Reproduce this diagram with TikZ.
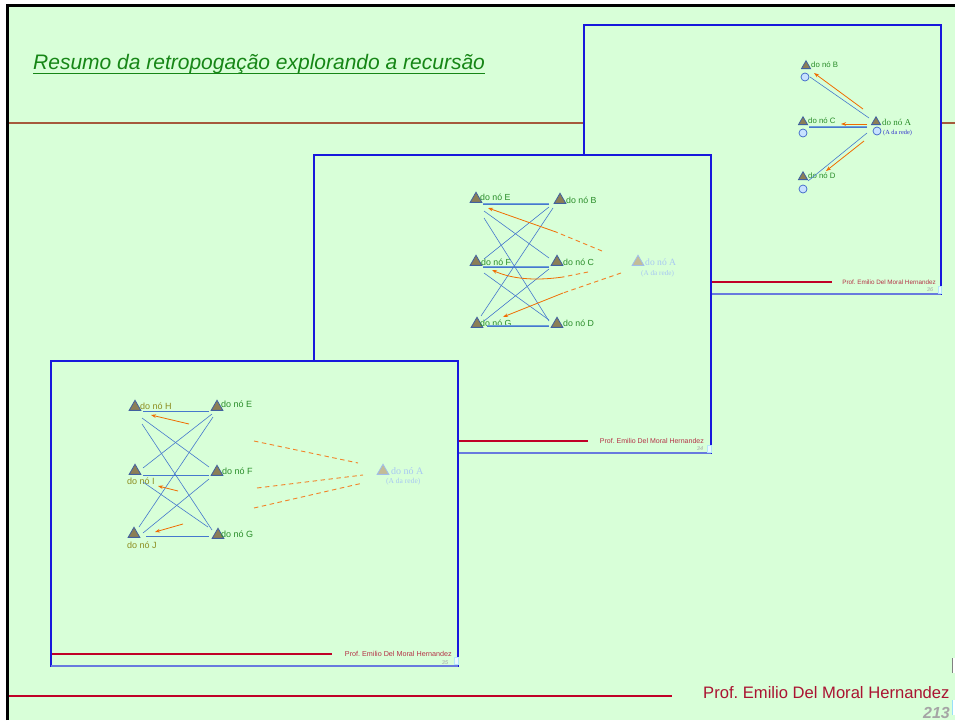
\documentclass[tikz,border=0pt]{standalone}
\usepackage{fontspec}
\setmainfont{Liberation Sans}
\newfontfamily\timesA{Liberation Serif}
\usetikzlibrary{shapes.geometric,calc,arrows.meta}

\definecolor{bg}{RGB}{216,255,216}
\definecolor{slideblue}{RGB}{24,24,220}
\definecolor{slidebase}{RGB}{104,122,222}
\definecolor{titlegreen}{RGB}{22,134,22}
\definecolor{labgreen}{RGB}{40,140,40}
\definecolor{labolive}{RGB}{140,140,30}
\definecolor{wireblue}{RGB}{70,120,205}
\definecolor{wirelight}{RGB}{110,160,215}
\definecolor{orangeA}{RGB}{240,108,0}
\definecolor{orangeB}{RGB}{242,130,40}
\definecolor{trifill}{RGB}{140,126,86}
\definecolor{triedge}{RGB}{64,96,160}
\definecolor{ringfill}{RGB}{200,226,255}
\definecolor{ringedge}{RGB}{60,100,200}
\definecolor{fadefill}{RGB}{196,188,150}
\definecolor{fadeedge}{RGB}{160,190,235}
\definecolor{fadetext}{RGB}{168,200,242}
\definecolor{subblue}{RGB}{50,50,205}
\definecolor{crimsonrule}{RGB}{192,0,40}
\definecolor{smallred}{RGB}{180,50,70}
\definecolor{footred}{RGB}{170,20,50}
\definecolor{rulebrown}{RGB}{165,90,60}
\definecolor{pagegray}{RGB}{165,165,165}

\newcommand\setfs[1]{\fontsize{#1}{#1}\selectfont}
\frenchspacing

\tikzset{
  tri/.style={regular polygon, regular polygon sides=3, inner sep=0pt,
    minimum size=13.5pt, fill=trifill, draw=triedge, line width=0.8pt},
  trismall/.style={tri, minimum size=10.5pt},
  trifade/.style={tri, fill=fadefill, draw=fadeedge},
  ring/.style={circle, inner sep=0pt, minimum size=8pt, fill=ringfill,
    draw=ringedge, line width=0.7pt},
  lab/.style={anchor=west, inner sep=0pt, text=labgreen},
  labh/.style={lab, text=labolive},
  serifA/.style={anchor=west, inner sep=0pt, font=\timesA},
  wire/.style={draw=wireblue, line width=0.6pt},
  wirewide/.style={draw=wirelight, line width=1.3pt},
  back/.style={draw=orangeA, line width=0.8pt,
    -{Stealth[length=5pt,width=3.6pt]}},
  fwd/.style={draw=orangeB, line width=0.9pt, dash pattern=on 4.5pt off 3.5pt},
  slideframe/.style={fill=bg, draw=slideblue, line width=1.2pt},
  slidebottom/.style={draw=slidebase, line width=2pt},
  footline/.style={draw=crimsonrule, line width=1.1pt},
  pagenum/.style={inner sep=0pt, text=pagegray, font=\setfs{5.5}\itshape},
  tinybox/.style={fill=cyan!8, draw=cyan!30, line width=0.3pt},
}

\begin{document}
\begin{tikzpicture}[x=1pt, y=-1pt]
\useasboundingbox (0,0) rectangle (955,720);

% page background and outer frame
\fill[white] (0,0) rectangle (955,720);
\fill[bg] (7.5,5) rectangle (955,720);
\draw[black, line width=3pt] (7.5,720) -- (7.5,5) -- (955,5);

% title and rules
\node[anchor=base west, inner sep=0pt, text=titlegreen,
      font=\setfs{21}\itshape] (title) at (33,69)
      {Resumo da retropogação explorando a recursão};
\draw[titlegreen, line width=1.3pt]
  ($(title.base west)+(0,4.5)$) -- ($(title.base east)+(0,4.5)$);
\draw[draw=rulebrown, line width=1.2pt] (9,123) -- (955,123);

% footer of the page
\fill[crimsonrule] (9,694.6) rectangle (672,696.6);
\node[anchor=base west, inner sep=0pt, text=footred, font=\setfs{16.6}]
  (author) at (703,698) {Prof. Emilio Del Moral Hernandez};
\node[anchor=base east, inner sep=0pt, text=pagegray,
      font=\setfs{16}\bfseries\itshape] (pageno) at (950,718.5) {213};
\fill[white] (952,658) rectangle (955,673);
\draw[gray, line width=1pt] (952.5,658) -- (952.5,673);
\fill[white] (952,700) rectangle (955,715);
\draw[cyan!40, line width=1pt] (952.5,700) -- (952.5,715);

%================ slide 36 ================
\path[slideframe] (584,25) rectangle (941,294);
\draw[slidebottom] (584,294) -- (941,294);
\draw[footline] (585,282) -- (832,282);
\node[anchor=east, inner sep=0pt, text=smallred, font=\setfs{6.3}]
  (foot36) at (936,282) {Prof. Emilio Del Moral Hernandez};
\node[pagenum] (num36) at (930,290) {36};
\path[tinybox] (938,286) rectangle (941,293);

\node[trismall] (B1) at (806,66) {};
\node[ring] (rB1) at (805,77) {};
\node[lab, font=\setfs{7.8}] (tB1) at (811,65) {do nó B};
\node[trismall] (C1) at (803,122) {};
\node[ring] (rC1) at (803,133) {};
\node[lab, font=\setfs{7.8}] (tC1) at (808,121) {do nó C};
\node[trismall] (A1) at (876,122) {};
\node[ring] (rA1) at (877,131) {};
\node[serifA, text=labgreen, font=\timesA\setfs{9}] (tA1) at (882,122) {do nó A};
\node[serifA, text=subblue, font=\timesA\setfs{6.3}] (sA1) at (883,133) {(A da rede)};
\node[trismall] (D1) at (803,177) {};
\node[ring] (rD1) at (803,189) {};
\node[lab, font=\setfs{7.8}] (tD1) at (808,176) {do nó D};

\draw[wire] ($(rA1)+(-8,-13)$) -- ($(rB1)+(5,0)$);
\draw[wirewide] ($(A1)+(-9,5)$) -- ($(rC1)+(6,-6)$);
\draw[wire] ($(A1)+(-9,5)$) -- ($(rC1)+(6,-6)$);
\draw[wire] ($(A1)+(-9,11)$) -- ($(rD1)+(5,-8)$);
\draw[back] ($(A1)+(-13,-13)$) -- ($(B1)+(8,7)$);
\draw[back] ($(A1)+(-9,2)$) -- ($(C1)+(38,2)$);
\draw[back] ($(A1)+(-12,19)$) -- ($(D1)+(23,-6)$);

%================ slide 34 ================
\path[slideframe] (314,155) rectangle (711,453);
\draw[slidebottom] (314,453) -- (711,453);
\draw[footline] (315,441) -- (588,441);
\node[anchor=east, inner sep=0pt, text=smallred, font=\setfs{7}]
  (foot34) at (704,441) {Prof. Emilio Del Moral Hernandez};
\node[pagenum] (num34) at (700,449) {34};
\path[tinybox] (707,445) rectangle (711,452);

\node[tri] (E2) at (476,199) {};
\node[lab, font=\setfs{8.8}] (tE2) at (480,197) {do nó E};
\node[tri] (B2) at (560,200) {};
\node[lab, font=\setfs{8.8}] (tB2) at (566,200) {do nó B};
\node[tri] (F2) at (476,262) {};
\node[lab, font=\setfs{8.8}] (tF2) at (481,262) {do nó F};
\node[tri] (C2) at (557,262) {};
\node[lab, font=\setfs{8.8}] (tC2) at (563,262) {do nó C};
\node[tri] (G2) at (477,324) {};
\node[lab, font=\setfs{8.8}] (tG2) at (480,323) {do nó G};
\node[tri] (D2) at (557,324) {};
\node[lab, font=\setfs{8.8}] (tD2) at (563,323) {do nó D};
\node[trifade] (A2) at (638,262) {};
\node[serifA, text=fadetext, font=\timesA\setfs{9.6}] (tA2) at (645,262) {do nó A};
\node[serifA, text=fadetext, font=\timesA\setfs{7.2}] (sA2) at (641,274) {(A da rede)};

\draw[wirewide] ($(E2)+(7,5)$) -- ($(B2)+(-11,4)$);
\draw[wirewide] ($(F2)+(7,5)$) -- ($(C2)+(-8,5)$);
\draw[wirewide] ($(G2)+(10,2)$) -- ($(D2)+(-8,2)$);
\draw[wire] ($(E2)+(7,5)$) -- ($(B2)+(-11,4)$);
\draw[wire] ($(E2)+(8,12)$) -- ($(C2)+(-8,-4)$);
\draw[wire] ($(E2)+(8,19)$) -- ($(D2)+(-8,-3)$);
\draw[wire] ($(B2)+(-11,7)$) -- ($(F2)+(8,-3)$);
\draw[wire] ($(B2)+(-7,8)$) -- ($(G2)+(4,-8)$);
\draw[wire] ($(F2)+(7,5)$) -- ($(C2)+(-8,5)$);
\draw[wire] ($(F2)+(8,11)$) -- ($(D2)+(-8,-4)$);
\draw[wire] ($(C2)+(-8,7)$) -- ($(G2)+(7,-3)$);
\draw[wire] ($(G2)+(10,2)$) -- ($(D2)+(-8,2)$);

\coordinate (k1) at (556,232);
\coordinate (k2) at (563,277);
\coordinate (k3) at (563,293);
\draw[fwd] ($(A2)+(-36,-11)$) -- (k1);
\draw[back] (k1) -- ($(E2)+(12,9)$);
\draw[fwd] ($(A2)+(-50,10)$) -- (k2);
\draw[back] (k2) .. controls (535,281) and (512,279) .. ($(F2)+(16,8)$);
\draw[fwd] ($(A2)+(-17,11)$) -- (k3);
\draw[back] (k3) -- ($(G2)+(26,-7)$);

%================ slide 35 ================
\path[slideframe] (51,361) rectangle (458,666);
\draw[slidebottom] (51,666) -- (458,666);
\draw[footline] (52,654) -- (332,654);
\begin{scope}
  \clip (340,640) rectangle (456,656);
  \node[anchor=east, inner sep=0pt, text=smallred, font=\setfs{7.2}]
    (foot35) at (452,654) {Prof. Emilio Del Moral Hernandez};
\end{scope}
\node[pagenum] (num35) at (445,663) {35};
\path[tinybox] (454,657) rectangle (458,664);

\node[tri] (H3) at (135,407) {};
\node[labh, font=\setfs{9}] (tH3) at (140,406) {do nó H};
\node[tri] (E3) at (217,407) {};
\node[lab, font=\setfs{9}] (tE3) at (221,404) {do nó E};
\node[tri] (I3) at (135,471) {};
\node[labh, font=\setfs{9}] (tI3) at (127,481) {do nó I};
\node[tri] (F3) at (217,472) {};
\node[lab, font=\setfs{9}] (tF3) at (222,471) {do nó F};
\node[tri] (J3) at (134,534) {};
\node[labh, font=\setfs{9}] (tJ3) at (127,545) {do nó J};
\node[tri] (G3) at (218,535) {};
\node[lab, font=\setfs{9}] (tG3) at (221,534) {do nó G};
\node[trifade] (A3) at (383,471) {};
\node[serifA, text=fadetext, font=\timesA\setfs{10}] (tA3) at (391,471) {do nó A};
\node[serifA, text=fadetext, font=\timesA\setfs{7.5}] (sA3) at (386,482) {(A da rede)};

\draw[wire] ($(H3)+(8,4)$) -- ($(E3)+(-8,4)$);
\draw[wire] ($(I3)+(8,4)$) -- ($(F3)+(-8,3)$);
\draw[wire] ($(J3)+(12,2)$) -- ($(G3)+(-9,1)$);
\draw[wire] ($(H3)+(7,11)$) -- ($(F3)+(-8,-5)$);
\draw[wire] ($(H3)+(7,17)$) -- ($(G3)+(-6,-5)$);
\draw[wire] ($(E3)+(-5,7)$) -- ($(I3)+(8,-3)$);
\draw[wire] ($(E3)+(-4,10)$) -- ($(J3)+(5,-7)$);
\draw[wire] ($(I3)+(8,11)$) -- ($(G3)+(-10,-8)$);
\draw[wire] ($(F3)+(-8,7)$) -- ($(J3)+(9,-1)$);

\draw[back] ($(E3)+(-28,17)$) -- ($(H3)+(16,8)$);
\draw[back] ($(F3)+(-39,19)$) -- ($(I3)+(23,15)$);
\draw[back] ($(G3)+(-35,-11)$) -- ($(J3)+(21,-2)$);

\coordinate (d1) at (254,441);
\coordinate (d2) at (257,488);
\coordinate (d3) at (254,508);
\draw[fwd] (d1) -- ($(A3)+(-25,-8)$);
\draw[fwd] (d2) -- ($(A3)+(-20,4)$);
\draw[fwd] (d3) -- ($(A3)+(-20,12)$);

\end{tikzpicture}
\end{document}
